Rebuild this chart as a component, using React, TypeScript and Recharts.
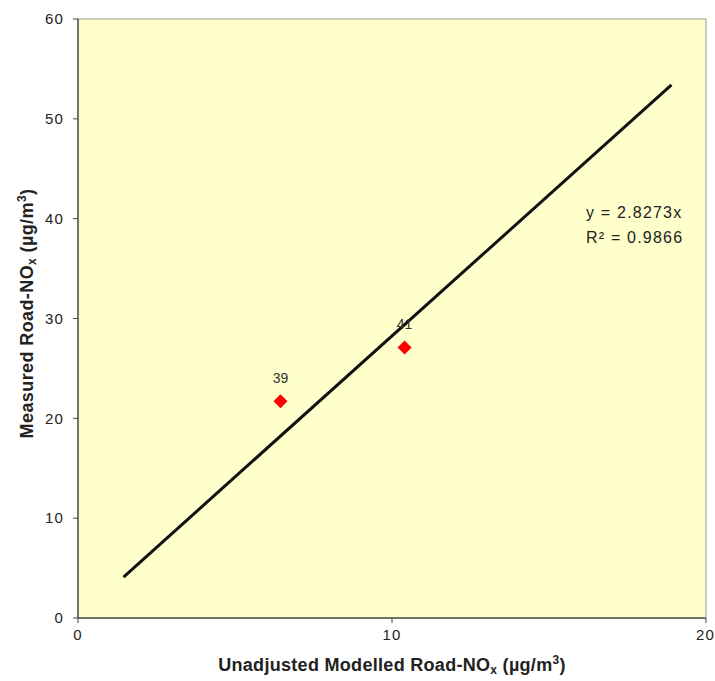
import {
  ComposedChart,
  Scatter,
  XAxis,
  YAxis,
  CartesianGrid,
  ReferenceLine,
  LabelList,
  Label,
} from "recharts";

const siteIds = ["39", "41"];
const modelledNOx = [6.45, 10.4];
const measuredNOx = [21.7, 27.1];

// trendline end points, y = 2.8273x
const trendX = [1.45, 18.9];
const trendY = [4.1, 53.4];

const xTicks = [0, 10, 20];
const yTicks = [0, 10, 20, 30, 40, 50, 60];

const points = siteIds.map((id, i) => ({ name: id, x: modelledNOx[i], y: measuredNOx[i] }));
const trend = trendX.map((x, i) => ({ x, y: trendY[i] }));

const FONT = "'Liberation Sans', Arial, sans-serif";

function Diamond(props: any) {
  const { cx, cy } = props;
  const r = 7;
  return (
    <polygon
      points={`${cx},${cy - r} ${cx + r},${cy} ${cx},${cy + r} ${cx - r},${cy}`}
      fill="#FF0000"
    />
  );
}

function XTitle(props: any) {
  const { viewBox } = props;
  const cx = viewBox.x + viewBox.width / 2;
  return (
    <text
      x={cx}
      y={viewBox.y + 53}
      textAnchor="middle"
      fontFamily={FONT}
      fontSize={18}
      letterSpacing={0.3}
      fontWeight="bold"
      fill="#222"
    >
      Unadjusted Modelled Road-NO<tspan fontSize={12} dy={3}>x</tspan>
      <tspan dy={-3}> (µg/m</tspan>
      <tspan fontSize={12} dy={-7}>3</tspan>
      <tspan dy={7}>)</tspan>
    </text>
  );
}

function YTitle(props: any) {
  const { viewBox } = props;
  const cy = viewBox.y + viewBox.height / 2 - 5;
  const x = 33;
  return (
    <text
      x={x}
      y={cy}
      textAnchor="middle"
      transform={`rotate(-90, ${x}, ${cy})`}
      fontFamily={FONT}
      fontSize={18}
      letterSpacing={0.4}
      fontWeight="bold"
      fill="#222"
    >
      Measured Road-NO<tspan fontSize={12} dy={3}>x</tspan>
      <tspan dy={-3}> (µg/m</tspan>
      <tspan fontSize={12} dy={-7}>3</tspan>
      <tspan dy={7}>)</tspan>
    </text>
  );
}

const tickStyle = { fontSize: 15, fill: "#222", fontFamily: FONT, letterSpacing: 1.2 };

export default function App() {
  return (
    <div style={{ position: "absolute", left: 0, top: 0, background: "#fff" }}>
      <ComposedChart
        width={715}
        height={681}
        margin={{ top: 19, right: 9, bottom: 33, left: 20 }}
      >
        <CartesianGrid horizontal={false} vertical={false} fill="#FFFFCC" />
        <XAxis
          type="number"
          dataKey="x"
          domain={[0, 20]}
          ticks={xTicks}
          tick={tickStyle}
          tickLine={{ stroke: "#444" }}
          tickSize={5}
          tickMargin={6}
          axisLine={{ stroke: "#444", strokeWidth: 1.5 }}
          allowDataOverflow
        >
          <Label content={XTitle} />
        </XAxis>
        <YAxis
          type="number"
          dataKey="y"
          domain={[0, 60]}
          ticks={yTicks}
          width={58}
          tick={tickStyle}
          tickLine={{ stroke: "#444" }}
          tickSize={5}
          tickMargin={9}
          axisLine={{ stroke: "#444", strokeWidth: 1.5 }}
          allowDataOverflow
        >
          <Label content={YTitle} />
        </YAxis>
        <ReferenceLine y={60} stroke="#999" />
        <ReferenceLine x={20} stroke="#999" />
        <Scatter
          data={trend}
          line={{ stroke: "#111", strokeWidth: 3 }}
          shape={() => null}
          isAnimationActive={false}
        />
        <Scatter data={points} shape={Diamond} isAnimationActive={false}>
          <LabelList
            dataKey="name"
            position="top"
            offset={14}
            style={{ fontSize: 14, fill: "#333", fontFamily: FONT }}
          />
        </Scatter>
        <text x={586} y={218} fontFamily={FONT} fontSize={16} letterSpacing={1.2} fill="#222">
          y = 2.8273x
        </text>
        <text x={586} y={243} fontFamily={FONT} fontSize={16} letterSpacing={1.2} fill="#222">
          R² = 0.9866
        </text>
      </ComposedChart>
    </div>
  );
}
